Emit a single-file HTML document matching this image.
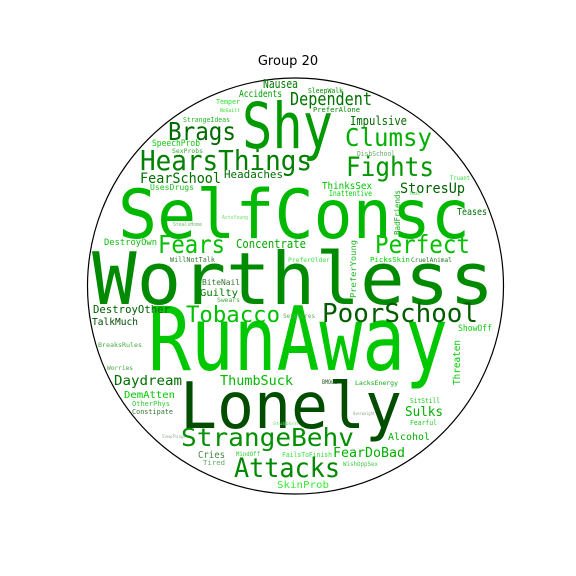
<!DOCTYPE html>
<html><head><meta charset="utf-8"><style>
html,body{margin:0;padding:0;background:#fff;}
svg{display:block;}
text{font-family:"DejaVu Sans Mono","Liberation Mono",monospace;}
</style></head><body>
<svg id="chart" width="576" height="576" viewBox="0 0 576 576">
<text x="288" y="65" text-anchor="middle" font-size="13" fill="#000" style="font-family:'DejaVu Sans','Liberation Sans',sans-serif">Group 20</text>
<circle cx="295.5" cy="286" r="208" fill="none" stroke="#000" stroke-width="1.2"/>
<g id="words"></g>
</svg>
<script>
// words: [text, x-left, baseline-y, width, fontSize, color, vertical]
const words = ["Worthless","RunAway","Lonely","SelfConsc","Shy","HearsThings","Brags","Clumsy","Fights","Dependent","Nausea","Accidents","SleepWalk","Temper","NoGuilt","PreferAlone","Impulsive","StrangeIdeas","SpeechProb","SexProbs","DisbSchool","FearSchool","Headaches","ThinksSex","Inattentive","StoresUp","UsesDrugs","Truant","Mean","BadFriends","Teases","StealsHome","ActsYoung","DestroyOwn","Fears","Concentrate","Perfect","WillNotTalk","PreferOlder","PicksSkin","CruelAnimal","PreferYoung","BiteNail","Guilty","Swears","DestroyOther","TalkMuch","Tobacco","SetsFires","PoorSchool","ShowOff","BreaksRules","Threaten","Worries","Daydream","ThumbSuck","BMOut","LacksEnergy","DemAtten","OtherPhys","Constipate","SitStill","Sulks","Overweight","Fearful","Stubborn","StrangeBehv","Alcohol","SleepThings","Cries","Tired","MindOff","FailsToFinish","FearDoBad","Attacks","WishOppSex","SkinProb"];
const xs = [92,148,180,118,242,140,168,345,346,290,263,239,308,216,220,313,350,183,152,172,357,140,224,322,329,400,150,450,410,400,457,173,222,104,158,236,375,170,288,370,411,356,202,200,217,93,92,186,283,322,458,98,460,107,114,220,322,355,124,132,132,410,405,353,410,273,181,388,162,198,203,236,282,333,234,343,277];
const ys = [304,370,428,238,148,170,140,146,176,105,88,97,93,104,112,112,125,122,146,153,156,183,178,189,196,193,190,180,195,235,215,226,219,245,253,248,253,262,262,262,262,298,285,296,302,313,325,322,318,322,331,347,385,370,385,385,384,385,398,406,414,403,416,415,425,425,446,440,438,458,465,456,457,457,477,466,488];
const ws = [402,300,222,352,91,172,68,87,88,82,35,43,35,24,20,47,57,47,48,31,38,81,59,50,43,65,44,20,10,45,30,29,26,53,67,70,95,45,42,40,41,58,38,38,23,77,46,94,32,156,34,44,45,26,68,73,15,43,51,38,41,30,38,22,27,25,173,42,23,27,22,24,50,72,106,35,52];
const fs = [72,88,64,68,63,28,25,25,27,18,12,10,7,7,5,7,12,7,9,6,7,14,11,10,8,14,8,6,5,8,10,5,5,9,25,12,25,7,6,7,6,8,8,10,6,11,10,22,6,26,9,6,10,6,13,13,6,6,10,7,7,7,13,4,7,4,25,10,4,10,7,6,7,13,27,6,10];
const cols = ["#008a00","#00c800","#004d00","#00b800","#009a00","#008000","#006a00","#00b000","#009800","#007000","#007a00","#00a000","#009000","#33dd33","#33dd33","#008800","#006800","#22b822","#11c811","#33aa33","#66aa66","#006e00","#007000","#00c000","#11cc11","#006000","#22c022","#33dd33","#66cc66","#11aa11","#007000","#66bb66","#66dd66","#11bb11","#00c000","#00aa00","#00c000","#337733","#44dd44","#00d000","#227722","#22b822","#337733","#007800","#44aa44","#006000","#004d00","#00c000","#66aa66","#005c00","#11cc11","#44aa44","#00c800","#44aa44","#007000","#00b800","#225522","#11aa11","#00c800","#33cc33","#337733","#22c822","#00b000","#88aa88","#22c822","#66dd66","#009000","#00b000","#88aa88","#448844","#66aa66","#33cc33","#33dd33","#00b000","#008800","#44cc44","#33ee33"];
const vert = ["BadFriends","PreferYoung","Threaten"];
const g = document.getElementById('words');
const NS = 'http://www.w3.org/2000/svg';
for (let i = 0; i < words.length; i++) {
  const t = document.createElementNS(NS, 'text');
  t.textContent = words[i];
  t.setAttribute('font-size', fs[i]);
  t.setAttribute('fill', cols[i]);
  t.setAttribute('textLength', ws[i]);
  t.setAttribute('lengthAdjust', 'spacingAndGlyphs');
  if (vert.indexOf(words[i]) >= 0) {
    t.setAttribute('x', 0);
    t.setAttribute('y', 0);
    t.setAttribute('transform', 'translate(' + xs[i] + ',' + ys[i] + ') rotate(-90)');
  } else {
    t.setAttribute('x', xs[i]);
    t.setAttribute('y', ys[i]);
  }
  
  
  g.appendChild(t);
}
</script>
</body></html>
